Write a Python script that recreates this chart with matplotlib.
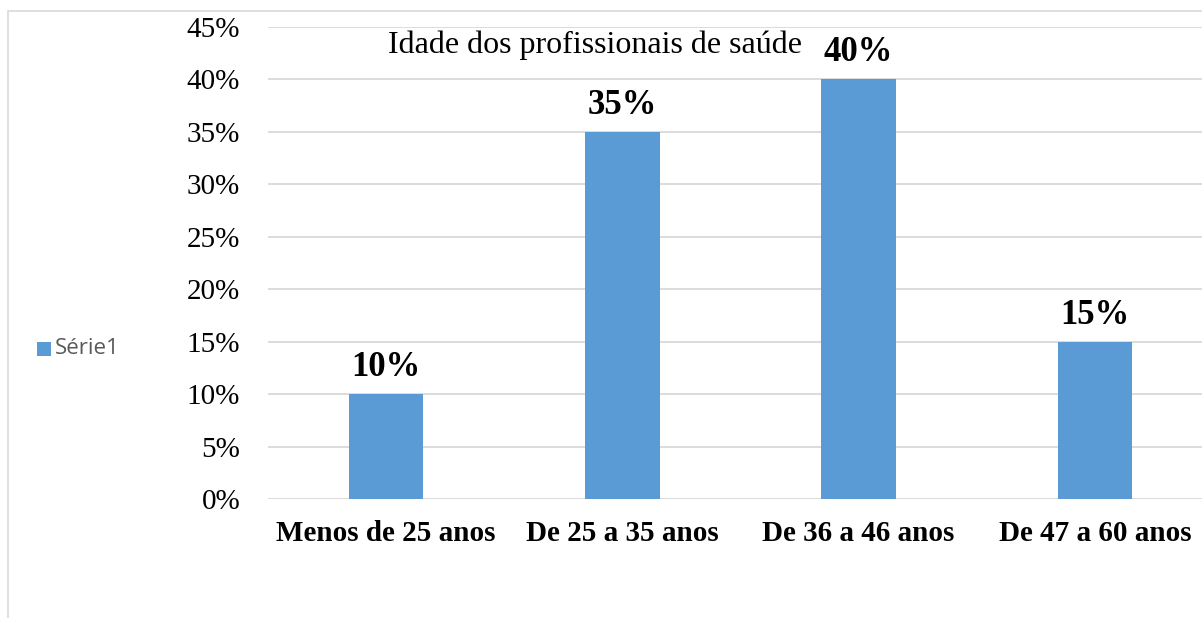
import matplotlib.pyplot as plt
from matplotlib.patches import Rectangle
from matplotlib.ticker import FuncFormatter

categories = ["Menos de 25 anos", "De 25 a 35 anos", "De 36 a 46 anos", "De 47 a 60 anos"]
values = [0.10, 0.35, 0.40, 0.15]
yticks = [0, 0.05, 0.10, 0.15, 0.20, 0.25, 0.30, 0.35, 0.40, 0.45]

bar_color = "#5b9bd5"
grid_color = "#d9d9d9"
serif = ["Liberation Serif", "DejaVu Serif"]

fig = plt.figure(figsize=(12.02, 6.18), dpi=100)
W, H = 1202, 618

# outer chart frame (only left and top edges fall inside the image)
fig.patches.append(Rectangle((8 / W, -0.1), 1.2, (H - 11) / H + 0.1, transform=fig.transFigure,
                             fill=False, edgecolor=grid_color, linewidth=1.2))

ax = fig.add_axes([268 / W, (H - 499) / H, 945 / W, 472 / H])
x = range(len(categories))
bars = ax.bar(x, values, width=0.315, color=bar_color, zorder=3)

ax.set_xlim(-0.5, len(categories) - 0.5)
ax.set_ylim(0, 0.45)
ax.set_yticks(yticks)
ax.yaxis.set_major_formatter(FuncFormatter(lambda v, _: f"{round(v * 100)}%"))
ax.grid(axis="y", color=grid_color, linewidth=1.3, zorder=0)
for s in ax.spines.values():
    s.set_visible(False)
ax.tick_params(axis="both", length=0)
ax.tick_params(axis="y", pad=20)
ax.tick_params(axis="x", pad=15)
for lab in ax.get_yticklabels():
    lab.set_family(serif)
    lab.set_fontsize(21)
ax.set_xticks(list(x))
ax.set_xticklabels(categories, family=serif, fontsize=21, fontweight="bold")

for b, v in zip(bars, values):
    ax.annotate(f"{round(v * 100)}%", (b.get_x() + b.get_width() / 2, v),
                xytext=(0, 13), textcoords="offset points", ha="center", va="baseline",
                family=serif, fontsize=25, fontweight="bold")

fig.text(595 / W, 1 - 53 / H, "Idade dos profissionais de saúde", family=serif,
         fontsize=23, ha="center", va="baseline")

# legend entry on the left
fig.patches.append(Rectangle((37 / W, 1 - 356 / H), 14 / W, 14 / H, transform=fig.transFigure,
                             facecolor=bar_color, edgecolor="none"))
fig.text(55 / W, 1 - 349 / H, "Série1", family=["Open Sans", "DejaVu Sans"], fontsize=16,
         color="#595959", ha="left", va="center")

fig.savefig("out.png", dpi=100)
